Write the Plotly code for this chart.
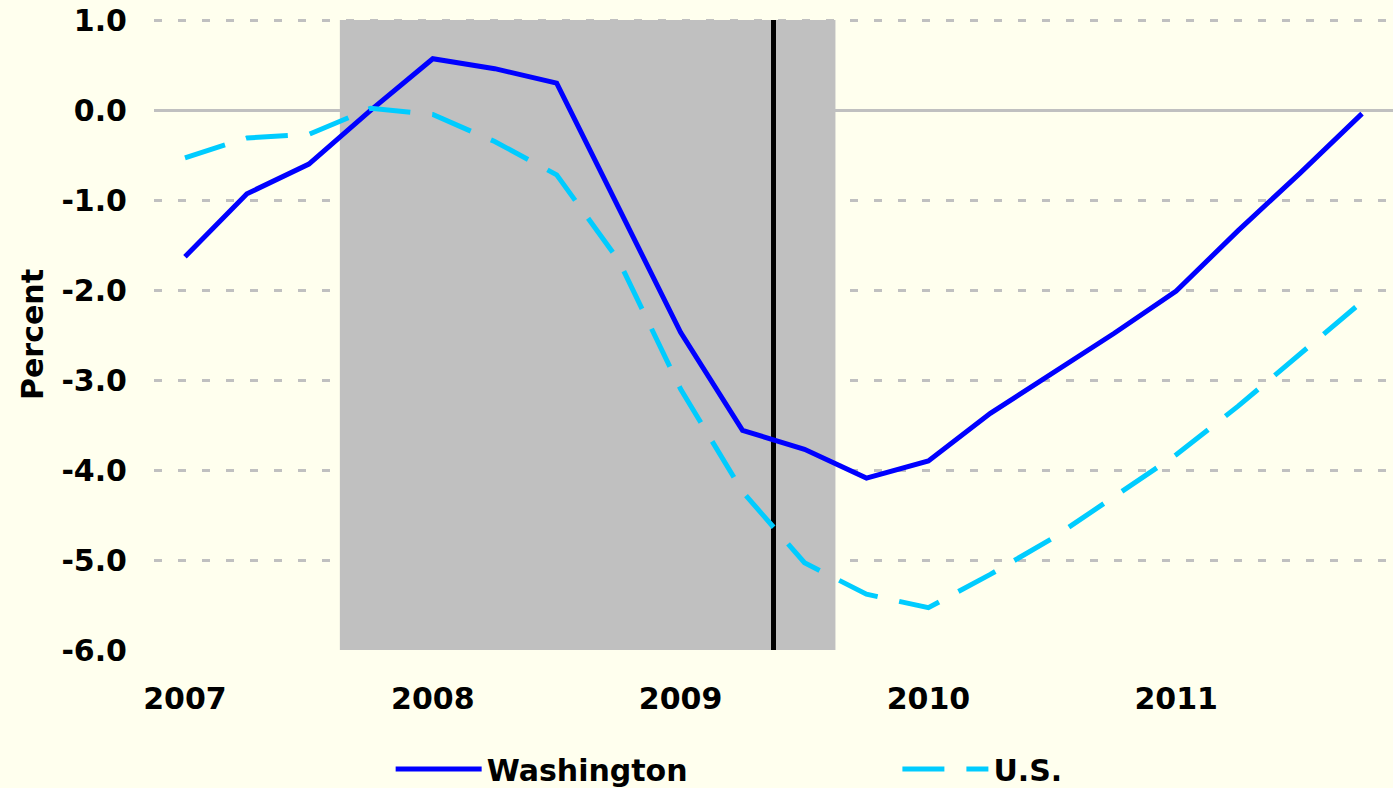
import plotly.graph_objects as go

quarters = [f"{y}Q{q}" for y in range(2007, 2012) for q in range(1, 5)]
washington = [-1.63, -0.93, -0.60, 0.00, 0.57, 0.46, 0.30, -1.09, -2.47, -3.56,
              -3.77, -4.09, -3.90, -3.37, -2.92, -2.48, -2.01, -1.34, -0.70, -0.04]
us = [-0.53, -0.31, -0.27, 0.02, -0.05, -0.35, -0.72, -1.67, -3.10, -4.24,
      -5.03, -5.38, -5.53, -5.16, -4.76, -4.29, -3.83, -3.29, -2.71, -2.13]
year_ticks = ["2007Q1", "2008Q1", "2009Q1", "2010Q1", "2011Q1"]
year_labels = ["2007", "2008", "2009", "2010", "2011"]
y_ticks = [1, 0, -1, -2, -3, -4, -5, -6]
y_labels = ["1.0", "0.0", "-1.0", "-2.0", "-3.0", "-4.0", "-5.0", "-6.0"]
shade_start, shade_end = 2.5, 10.5   # category index
marker_line = 9.5

BG = "#FFFFEE"
FS = 30
FONT = dict(family="DejaVu Sans", color="black", size=FS, weight="bold")

fig = go.Figure()
fig.add_trace(go.Scatter(x=quarters, y=washington, mode="lines", name="Washington",
                         line=dict(color="#0000FF", width=5), legend="legend"))
fig.add_trace(go.Scatter(x=quarters, y=us, mode="lines", name="U.S.",
                         line=dict(color="#00CCFF", width=5, dash="42px,22px"), legend="legend2"))

fig.add_shape(type="rect", xref="x", yref="y", x0=shade_start, x1=shade_end, y0=-6, y1=1,
              fillcolor="#C0C0C0", line_width=0, layer="between")
fig.add_shape(type="line", xref="x", yref="y", x0=marker_line, x1=marker_line, y0=-6.06, y1=1,
              line=dict(color="black", width=5), layer="between")

legend_common = dict(orientation="h", yanchor="middle", yref="container", y=0.024,
                     xanchor="left", bgcolor="rgba(0,0,0,0)", itemwidth=86, font=FONT)

fig.update_layout(
    width=1393, height=788,
    margin=dict(l=154, r=0, t=19, b=138, autoexpand=False),
    paper_bgcolor=BG, plot_bgcolor=BG,
    font=FONT,
    showlegend=True,
    legend=dict(x=0.191, **legend_common),
    legend2=dict(x=0.600, **legend_common),
)
fig.update_xaxes(type="category", categoryorder="array", categoryarray=quarters,
                 range=[-0.5, 19.5], tickvals=year_ticks, ticktext=year_labels,
                 showgrid=False, zeroline=False, showline=False,
                 ticks="outside", ticklen=22, tickcolor="rgba(0,0,0,0)",
                 tickfont=FONT, automargin=False)
fig.update_yaxes(range=[-6, 1.012], tickvals=y_ticks, ticktext=y_labels,
                 showgrid=True, gridcolor="#C0C0C0", gridwidth=3, griddash="8px,16px",
                 zeroline=True, zerolinecolor="#C0C0C0", zerolinewidth=3,
                 showline=False, ticks="outside", ticklen=20, tickcolor="rgba(0,0,0,0)",
                 tickfont=FONT, automargin=False, ticklabeloverflow="allow",
                 title=dict(text="Percent", standoff=8, font=FONT))

fig.write_html("out.html", config={"displayModeBar": False},
               post_script="document.body.style.margin='0';document.body.style.overflow='hidden';")
